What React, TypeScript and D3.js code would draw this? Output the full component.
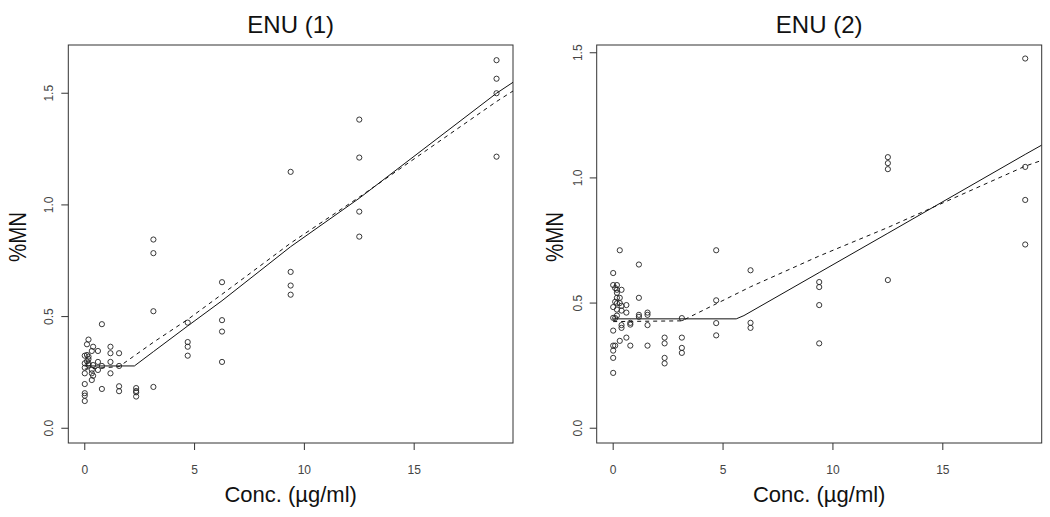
import React from "react";
import * as d3 from "d3";

// ---------- data ----------
const xTicks = [0, 5, 10, 15];
const yTicks = [0, 0.5, 1.0, 1.5];
const xLabel = "Conc. (µg/ml)";
const yLabel = "%MN";

// ENU (1)
const enu1X = [
  18.75, 18.75, 18.75, 18.75,
  12.5, 12.5, 12.5, 12.5,
  9.375, 9.375, 9.375, 9.375,
  6.25, 6.25, 6.25, 6.25,
  4.6875, 4.6875, 4.6875, 4.6875,
  3.125, 3.125, 3.125, 3.125,
  2.34, 2.34, 2.34, 2.34,
  1.5625, 1.5625, 1.5625, 1.5625,
  1.17, 1.17, 1.17, 1.17,
  0.78, 0.78, 0.78,
  0, 0, 0, 0, 0, 0, 0, 0,
  0.1, 0.1, 0.1,
  0.17, 0.17, 0.17, 0.17, 0.17,
  0.32, 0.32, 0.32, 0.32,
  0.38, 0.38, 0.38,
  0.6, 0.6, 0.6,
];
const enu1Y = [
  1.648, 1.565, 1.5, 1.216,
  1.382, 1.212, 0.97, 0.858,
  1.148, 0.7, 0.639, 0.598,
  0.654, 0.484, 0.433, 0.297,
  0.473, 0.386, 0.365, 0.325,
  0.845, 0.784, 0.524, 0.185,
  0.18, 0.167, 0.161, 0.142,
  0.336, 0.279, 0.188, 0.166,
  0.365, 0.336, 0.297, 0.246,
  0.466, 0.279, 0.176,
  0.325, 0.291, 0.271, 0.246, 0.198, 0.157, 0.146, 0.122,
  0.376, 0.328, 0.3,
  0.397, 0.321, 0.291, 0.283, 0.31,
  0.346, 0.246, 0.216, 0.262,
  0.365, 0.283, 0.235,
  0.346, 0.297, 0.261,
];
const enu1FitX = [0, 2.26, 3.125, 4.6875, 6.25, 9.375, 12.5, 18.75, 19.5];
const enu1FitSolid = [0.279, 0.279, 0.343, 0.458, 0.571, 0.813, 1.03, 1.5, 1.549];
const enu1DashX = [0, 1.5625, 3.125, 4.6875, 6.25, 9.375, 12.5, 18.75, 19.5];
const enu1FitDashed = [0.265, 0.276, 0.385, 0.487, 0.6, 0.829, 1.035, 1.463, 1.51];

// ENU (2)
const enu2X = [
  18.75, 18.75, 18.75, 18.75,
  12.5, 12.5, 12.5, 12.5,
  9.375, 9.375, 9.375, 9.375,
  6.25, 6.25, 6.25,
  4.6875, 4.6875, 4.6875, 4.6875,
  3.125, 3.125, 3.125, 3.125,
  2.34, 2.34, 2.34, 2.34,
  1.5625, 1.5625, 1.5625, 1.5625,
  1.17, 1.17, 1.17, 1.17,
  0.78, 0.78, 0.78,
  0.6, 0.6, 0.6,
  0.38, 0.38, 0.38, 0.38, 0.38,
  0.3, 0.3, 0.3, 0.3,
  0.17, 0.17, 0.17, 0.17, 0.17, 0.17, 0.17,
  0.09, 0.09, 0.09, 0.09,
  0, 0, 0, 0, 0, 0, 0, 0, 0,
];
const enu2Y = [
  1.477, 1.044, 0.912, 0.734,
  1.083, 1.059, 1.035, 0.592,
  0.584, 0.564, 0.492, 0.339,
  0.631, 0.421, 0.401,
  0.711, 0.511, 0.42, 0.371,
  0.44, 0.362, 0.321, 0.301,
  0.362, 0.339, 0.281, 0.259,
  0.462, 0.453, 0.412, 0.33,
  0.654, 0.521, 0.453, 0.445,
  0.421, 0.414, 0.33,
  0.492, 0.462, 0.362,
  0.553, 0.489, 0.47, 0.412, 0.401,
  0.711, 0.521, 0.5, 0.349,
  0.572, 0.553, 0.541, 0.521, 0.499, 0.474, 0.45,
  0.56, 0.505, 0.44, 0.33,
  0.62, 0.572, 0.484, 0.441, 0.39, 0.33, 0.31, 0.281, 0.221,
];
const enu2FitX = [0, 5.6, 5.95, 9.375, 12.5, 18.75, 19.5];
const enu2FitSolid = [0.437, 0.437, 0.45, 0.622, 0.779, 1.094, 1.131];
const enu2DashX = [0, 3.125, 4.6875, 6.25, 9.375, 12.5, 18.75, 19.5];
const enu2FitDashed = [0.426, 0.429, 0.497, 0.565, 0.688, 0.802, 1.047, 1.07];

const FONT = "'Liberation Sans', Arial, Helvetica, sans-serif";

type PanelProps = {
  id: string;
  title: string;
  left: number;
  right: number;
  yLabX: number;
  yDomain: [number, number];
  px: number[];
  py: number[];
  sx: number[];
  sy: number[];
  dx: number[];
  dy: number[];
};

function Panel(p: PanelProps) {
  const top = 45;
  const bottom = 443;
  const x = d3.scaleLinear().domain([-0.75, 19.5]).range([p.left, p.right]);
  const y = d3.scaleLinear().domain(p.yDomain).range([bottom, top]);
  const line = d3
    .line<[number, number]>()
    .x((d) => x(d[0]))
    .y((d) => y(d[1]));
  const solid = line(p.sx.map((v, i) => [v, p.sy[i]] as [number, number])) || "";
  const dashed = line(p.dx.map((v, i) => [v, p.dy[i]] as [number, number])) || "";
  const cx = (p.left + p.right) / 2;
  const clipId = `clip-${p.id}`;
  return (
    <g>
      <defs>
        <clipPath id={clipId}>
          <rect x={p.left} y={top} width={p.right - p.left} height={bottom - top} />
        </clipPath>
      </defs>
      <text x={cx} y={33} textAnchor="middle" fontSize={24} fill="#111" fontFamily={FONT}>
        {p.title}
      </text>
      <rect
        x={p.left}
        y={top}
        width={p.right - p.left}
        height={bottom - top}
        fill="none"
        stroke="#333"
        strokeWidth={1}
      />
      {xTicks.map((t) => (
        <g key={`xt${t}`}>
          <line x1={x(t)} x2={x(t)} y1={bottom} y2={bottom + 7} stroke="#333" />
          <text x={x(t)} y={474} textAnchor="middle" fontSize={12} fill="#444" fontFamily={FONT}>
            {String(t)}
          </text>
        </g>
      ))}
      {yTicks.map((t) => (
        <g key={`yt${t}`}>
          <line x1={p.left - 7} x2={p.left} y1={y(t)} y2={y(t)} stroke="#333" />
          <text
            transform={`translate(${p.left - 15},${y(t)}) rotate(-90)`}
            textAnchor="middle"
            fontSize={12}
            fill="#444"
            fontFamily={FONT}
          >
            {t.toFixed(1)}
          </text>
        </g>
      ))}
      <text x={cx} y={502} textAnchor="middle" fontSize={22} fill="#111" fontFamily={FONT}>
        {xLabel}
      </text>
      <text
        transform={`translate(${p.yLabX},237) rotate(-90)`}
        textAnchor="middle"
        fontSize={24}
        textLength={50}
        lengthAdjust="spacingAndGlyphs"
        fill="#111"
        fontFamily={FONT}
      >
        {yLabel}
      </text>
      <g clipPath={`url(#${clipId})`}>
        <path d={solid} fill="none" stroke="#111" strokeWidth={1} />
        <path d={dashed} fill="none" stroke="#111" strokeWidth={1} strokeDasharray="4,4" />
      </g>
      {p.px.map((v, i) => (
        <circle
          key={i}
          cx={x(v)}
          cy={y(p.py[i])}
          r={2.6}
          fill="none"
          stroke="#222"
          strokeWidth={0.9}
        />
      ))}
    </g>
  );
}

export default function App() {
  return (
    <svg
      width={1050}
      height={517}
      style={{ position: "absolute", left: 0, top: 0, background: "#fff" }}
    >
      <rect x={0} y={0} width={1050} height={517} fill="#fff" />
      <Panel
        id="a"
        title="ENU (1)"
        left={68.3}
        right={513}
        yLabX={26}
        yDomain={[-0.066, 1.716]}
        px={enu1X}
        py={enu1Y}
        sx={enu1FitX}
        sy={enu1FitSolid}
        dx={enu1DashX}
        dy={enu1FitDashed}
      />
      <Panel
        id="b"
        title="ENU (2)"
        left={596.7}
        right={1041.7}
        yLabX={563}
        yDomain={[-0.059, 1.531]}
        px={enu2X}
        py={enu2Y}
        sx={enu2FitX}
        sy={enu2FitSolid}
        dx={enu2DashX}
        dy={enu2FitDashed}
      />
    </svg>
  );
}
